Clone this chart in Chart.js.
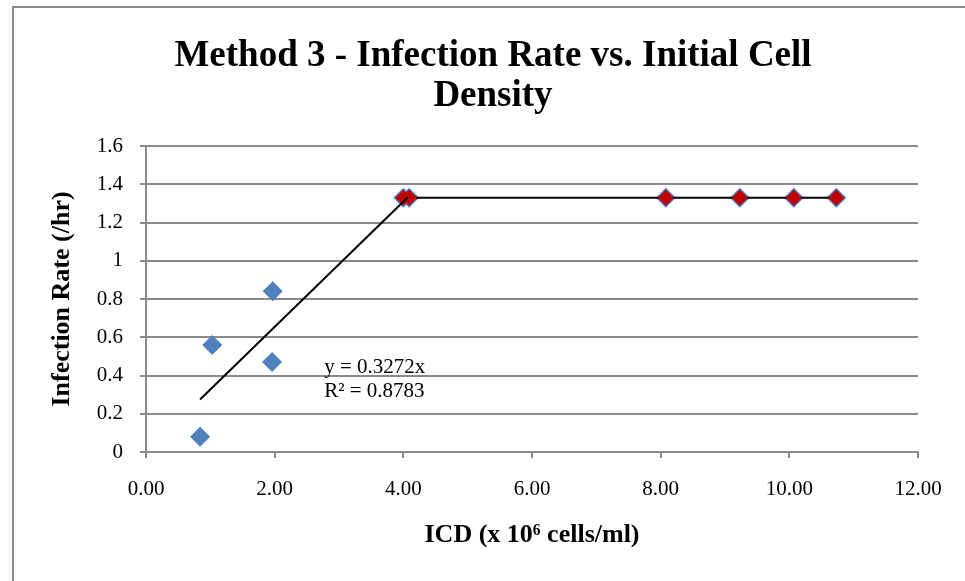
<!DOCTYPE html>
<html>
<head>
<meta charset="utf-8">
<script src="https://cdn.jsdelivr.net/npm/chart.js@4.4.1/dist/chart.umd.min.js"></script>
<style>
  body { margin: 0; background: #fff; overflow: hidden; }
  #wrap { position: relative; width: 965px; height: 581px; }
  #frame { position: absolute; left: 12px; top: 6px; width: 1000px; height: 700px;
           border-left: 2px solid #8a8a8a; border-top: 2px solid #8a8a8a; }
  canvas { position: absolute; left: 0; top: 0; }
</style>
</head>
<body>
<div id="wrap">
  <div id="frame"></div>
  <canvas id="myChart" width="965" height="581"></canvas>
</div>
<script>
const titleLines = ['Method 3 - Infection Rate vs. Initial Cell', 'Density'];
const xTitle = 'ICD (x 10\u2076 cells/ml)';
const yTitle = 'Infection Rate (/hr)';

// blue series: all measured points
const icdValues = [0.84, 1.03, 1.97, 1.96, 4.0, 4.09, 8.08, 9.23, 10.07, 10.73];
const rateValues = [0.08, 0.56, 0.84, 0.47, 1.33, 1.33, 1.33, 1.33, 1.33, 1.33];

// red series: plateau points
const plateauIcd = [4.0, 4.09, 8.08, 9.23, 10.07, 10.73];
const plateauRate = [1.33, 1.33, 1.33, 1.33, 1.33, 1.33];

// linear trendline through origin, from the chart label
const trendSlope = 0.3272;
const trendRange = [0.84, 4.07];
const trendText = ['y = 0.3272x', 'R\u00b2 = 0.8783'];

const font = '"Liberation Serif", "Times New Roman", serif';

// title drawn by hand so it can be centred on the whole frame
const chartTitle = {
  id: 'chartTitle',
  afterDraw(chart) {
    const ctx = chart.ctx;
    ctx.save();
    ctx.font = 'bold 37px ' + font;
    ctx.fillStyle = '#000';
    ctx.textAlign = 'center';
    ctx.textBaseline = 'alphabetic';
    ctx.fillText(titleLines[0], 493, 66);
    ctx.fillText(titleLines[1], 493, 106);
    ctx.restore();
  }
};

const trendLabel = {
  id: 'trendLabel',
  afterDatasetsDraw(chart) {
    const { ctx, scales } = chart;
    const x = scales.x.getPixelForValue(2.77);
    const y = scales.y.getPixelForValue(0.44);
    ctx.save();
    ctx.font = '21px ' + font;
    ctx.fillStyle = '#000';
    ctx.textBaseline = 'middle';
    ctx.fillText(trendText[0], x, y);
    ctx.fillText(trendText[1], x, y + 24);
    ctx.restore();
  }
};

const data = {
  datasets: [
    {
      label: 'trend',
      data: trendRange.map(v => ({ x: v, y: trendSlope * v })),
      showLine: true,
      borderColor: '#000',
      borderWidth: 2,
      pointRadius: 0,
      order: 1,
    },
    {
      label: 'plateau',
      data: plateauIcd.map((v, i) => ({ x: v, y: plateauRate[i] })),
      showLine: true,
      borderColor: '#000',
      borderWidth: 2,
      pointStyle: 'rectRot',
      pointRadius: 8,
      pointBackgroundColor: '#c00000',
      pointBorderColor: '#c00000',
      pointBorderWidth: 0,
      order: 2,
    },
    {
      label: 'rate',
      data: icdValues.map((v, i) => ({ x: v, y: rateValues[i] })),
      pointStyle: 'rectRot',
      pointRadius: 10,
      pointBackgroundColor: '#4f81bd',
      pointBorderColor: '#4f81bd',
      pointBorderWidth: 0,
      order: 3,
    },
  ],
};

const config = {
  type: 'scatter',
  data: data,
  plugins: [trendLabel, chartTitle],
  options: {
    responsive: false,
    animation: false,
    layout: { padding: { left: 12, right: 47, top: 146, bottom: 20 } },
    plugins: {
      legend: { display: false },
      tooltip: { enabled: false },
      title: { display: false },
    },
    scales: {
      x: {
        type: 'linear',
        min: 0,
        max: 12,
        afterFit: (s) => { s.height = 109; },
        ticks: {
          stepSize: 2,
          color: '#000',
          padding: 19,
          font: { family: font, size: 21 },
          callback: (v) => v.toFixed(2),
        },
        grid: { drawOnChartArea: false, drawTicks: true, tickLength: 6, color: '#8a8a8a', lineWidth: 2 },
        border: { display: true, color: '#8a8a8a', width: 2 },
        title: {
          display: true,
          text: xTitle,
          color: '#000',
          font: { family: font, size: 26, weight: 'bold' },
          padding: { top: 0, bottom: 10 },
        },
      },
      y: {
        min: 0,
        max: 1.6,
        afterFit: (s) => { s.width = 134; },
        ticks: {
          stepSize: 0.2,
          color: '#000',
          padding: 17,
          font: { family: font, size: 21 },
          callback: (v) => String(+v.toFixed(1)),
        },
        grid: { color: '#8a8a8a', lineWidth: 2, tickLength: 6 },
        border: { display: true, color: '#8a8a8a', width: 2 },
        title: {
          display: true,
          text: yTitle,
          color: '#000',
          font: { family: font, size: 26, weight: 'bold' },
          padding: { top: 35, bottom: 0 },
        },
      },
    },
  },
};

const ctx = document.getElementById('myChart').getContext('2d');
const myChart = new Chart(ctx, config);
</script>
</body>
</html>
